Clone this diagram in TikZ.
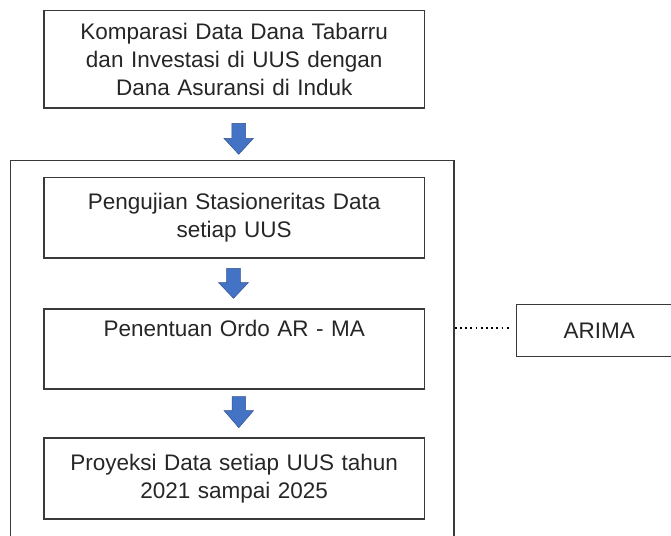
\documentclass[tikz,border=0pt]{standalone}
\usepackage{fontspec}
\setmainfont[WordSpace=1.2]{Liberation Sans}
\usetikzlibrary{calc}
\definecolor{arrowblue}{HTML}{4472C4}
\definecolor{arrowedge}{HTML}{2F528F}
\definecolor{linegray}{HTML}{3A3A3A}
\definecolor{textgray}{HTML}{262626}
\tikzset{
  stepbox/.style={draw=linegray, line width=1.5pt, rectangle, inner sep=0pt,
    minimum width=380.3pt, align=center, text=textgray,
    font=\fontsize{22.5pt}{28pt}\selectfont},
  plaintext/.style={inner sep=0pt, align=center, text=textgray,
    font=\fontsize{22.5pt}{28pt}\selectfont},
  blockarrow/.style={fill=arrowblue, draw=arrowedge, line width=0.5pt},
  frame/.style={draw=linegray, line width=1.5pt, rectangle, inner sep=0pt},
  dotline/.style={draw=black, line width=1.8pt, dash pattern=on 1.8pt off 3.4pt}
}
\newcommand{\myblockarrow}[4]{% x, top, headstart, tip
  \fill[blockarrow] (#1-6.8,#2) -- (#1+6.8,#2) -- (#1+6.8,#3) -- (#1+14.8,#3)
    -- (#1,#4) -- (#1-14.8,#3) -- (#1-6.8,#3) -- cycle;}
\begin{document}
\begin{tikzpicture}[x=1pt,y=-1pt]
\useasboundingbox (0,0) rectangle (671,535);
\begin{scope}
\clip (0,0) rectangle (671,535);
% outer frame (bottom lies below the page)
\node[frame, minimum width=443.3pt, minimum height=390pt] (outer) at (232.35,355.7) {};
% boxes
\node[stepbox, minimum height=97.5pt] (b1) at (234.2,59.3)
  {Komparasi Data Dana Tabarru\\dan Investasi di UUS dengan\\Dana Asuransi di Induk};
\node[stepbox, minimum height=80.5pt] (b2) at (234.2,217.5)
  {Pengujian Stasioneritas Data\\setiap UUS};
\node[stepbox, minimum height=80pt] (b3) at (234.2,348.9) {};
\node[plaintext, anchor=base] (b3t) at ($(b3.north)+(0,28.5)$) {Penentuan Ordo AR - MA};
\node[stepbox, minimum height=81pt] (b4) at (234.2,478.3)
  {Proyeksi Data setiap UUS tahun\\2021 sampai 2025};
% ARIMA box (right side runs off the page)
\node[frame, minimum width=165.3pt, minimum height=52.4pt, text=textgray,
  font=\fontsize{22.5pt}{28pt}\selectfont] (arima) at (599.35,330.5) {ARIMA};
% dotted connector
\draw[dotline, shorten >=6pt] (outer.east |- 455,328.3) coordinate (dstart) -- (arima.west |- dstart);
% block arrows between boxes
\myblockarrow{238.7}{123.3}{138.3}{154.3}
\myblockarrow{233.5}{268.3}{282.7}{298.3}
\myblockarrow{238.8}{396.7}{410.5}{427.7}
\end{scope}
\end{tikzpicture}
\end{document}
